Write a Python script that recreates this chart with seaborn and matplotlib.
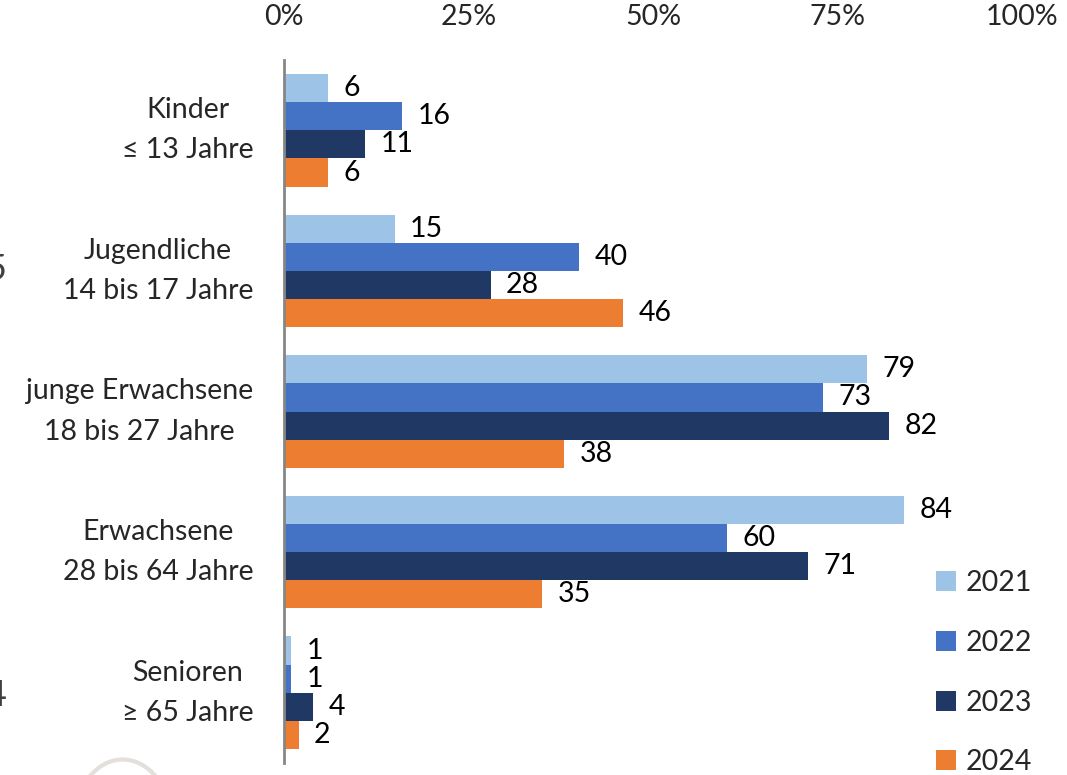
import pandas as pd
import seaborn as sns
import matplotlib.pyplot as plt
from matplotlib.patches import Patch, Ellipse

# data
groups = ['Kinder\n≤ 13 Jahre', 'Jugendliche\n14 bis 17 Jahre', 'junge Erwachsene\n18 bis 27 Jahre',
          'Erwachsene\n28 bis 64 Jahre', 'Senioren\n≥ 65 Jahre']
years = ['2021', '2022', '2023', '2024']
v2021 = [6, 15, 79, 84, 1]
v2022 = [16, 40, 73, 60, 1]
v2023 = [11, 28, 82, 71, 4]
v2024 = [6, 46, 38, 35, 2]
colors = ['#9DC3E6', '#4472C4', '#203864', '#ED7D31']
xticks = [0, 25, 50, 75, 100]
xtick_labels = ['0%', '25%', '50%', '75%', '100%']

rows = []
for year, vals in zip(years, [v2021, v2022, v2023, v2024]):
    for g, v in zip(groups, vals):
        rows.append({'group': g, 'year': year, 'value': v})
df = pd.DataFrame(rows)

sns.set_style('white')
plt.rcParams['font.family'] = ['Lato', 'DejaVu Sans']
fs = 20.5

fig = plt.figure(figsize=(10.67, 7.75), dpi=100)
ax = fig.add_axes([0.266, 0.0155, 0.692, 0.907])

sns.barplot(data=df, y='group', x='value', hue='year', order=groups, hue_order=years,
            palette=colors, orient='h', width=0.8, linewidth=0, saturation=1, ax=ax, legend=False)

for cont in ax.containers:
    ax.bar_label(cont, fmt='%d', padding=11, fontsize=fs, color='black')

ax.set_xlim(0, 100)
ax.set_ylim(4.5, -0.5)
ax.xaxis.tick_top()
ax.set_xticks(xticks)
ax.set_xticklabels(xtick_labels, fontsize=fs)
ax.tick_params(axis='x', length=0, pad=22)
ax.tick_params(axis='y', length=0, pad=22)
ax.set_yticks(range(len(groups)))
ax.set_yticklabels(groups, fontsize=fs, ma='center', va='center', linespacing=1.68)
ax.set_xlabel('')
ax.set_ylabel('')
for s in ['top', 'right', 'bottom']:
    ax.spines[s].set_visible(False)
ax.spines['left'].set_color('#868686')
ax.spines['left'].set_linewidth(2)

handles = [Patch(facecolor=c, edgecolor='none', label=y) for c, y in zip(colors, years)]
fig.legend(handles=handles, loc='upper left', bbox_to_anchor=(0.877, 0.264), frameon=False,
           fontsize=fs, handlelength=0.7, handleheight=0.7, handletextpad=0.35,
           labelspacing=1.18, borderpad=0, borderaxespad=0)

# cropped fragments at the left edge of the original slide
fig.text(0.006, 0.652, '5', fontsize=26, color='#404040', ha='right', va='center')
fig.text(0.006, 0.102, '4', fontsize=26, color='#404040', ha='right', va='center')
fig.patches.append(Ellipse((0.115, -0.06), 0.09, 0.16, transform=fig.transFigure,
                           facecolor='none', edgecolor='#e3e0dc', linewidth=3))

fig.savefig('out.png', dpi=100)
